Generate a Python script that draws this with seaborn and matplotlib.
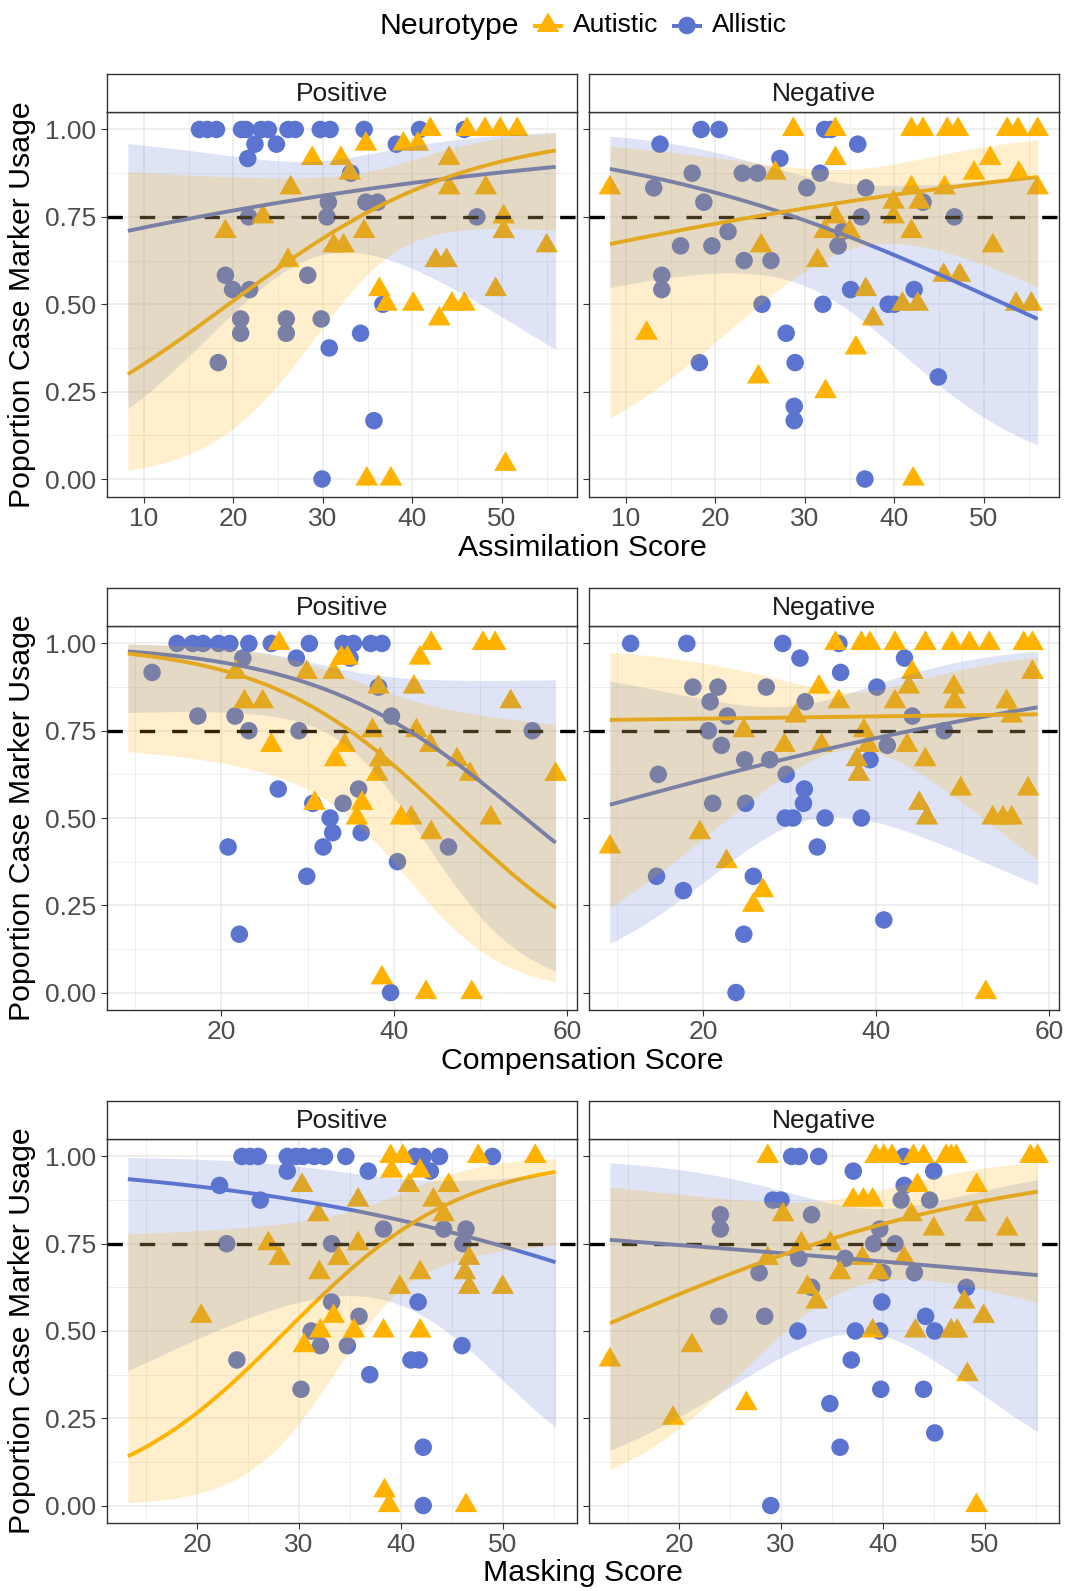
import numpy as np
import pandas as pd
import matplotlib
matplotlib.use("Agg")
import matplotlib.pyplot as plt
from matplotlib.path import Path
import seaborn as sns

sns.set_theme(style="white")
plt.rcParams["font.family"] = ["Liberation Sans", "DejaVu Sans"]

# ---------------------------------------------------------------- data
neurotypes = ["Autistic", "Allistic"]
valences = ["Positive", "Negative"]
score_names = ["Assimilation Score", "Compensation Score", "Masking Score"]
y_ticks = [0.0, 0.25, 0.5, 0.75, 1.0]
y_tick_labels = ["0.00", "0.25", "0.50", "0.75", "1.00"]
x_ticks = [[10, 20, 30, 40, 50], [20, 40, 60], [20, 30, 40, 50]]
threshold = 0.75

# Assimilation, Positive
assim_pos_aut_x = [19.1, 23.3, 26.4, 26.1, 28.8, 32.0, 33.0, 31.2, 32.3, 34.8, 34.6, 36.3, 37.1, 34.9, 37.6, 39.0, 40.6, 40.1,
                   42.0, 42.6, 43.0, 43.8, 44.1, 44.1, 44.4, 45.8, 46.1, 48.1, 48.2, 49.3, 49.8, 50.2, 50.2, 50.4, 51.7, 55.0]
assim_pos_aut_y = [0.708, 0.75, 0.833, 0.625, 0.917, 0.917, 0.875, 0.667, 0.667, 0.958, 0.708, 0.542, 0.5, 0.0, 0.0, 0.958, 0.958, 0.5,
                   1.0, 0.625, 0.458, 0.625, 0.917, 0.833, 0.5, 0.5, 1.0, 1.0, 0.833, 0.542, 1.0, 0.75, 0.708, 0.042, 1.0, 0.667]
assim_pos_all_x = [16.2, 17.1, 18.1, 20.9, 21.4, 23.1, 23.9, 26.1, 26.9, 29.7, 30.8, 34.6, 40.8, 45.8, 22.4, 24.8, 38.2, 21.6, 33.1, 30.6,
                   34.8, 36.1, 21.7, 30.45, 47.2, 19.1, 28.3, 19.9, 21.8, 36.7, 20.8, 25.9, 29.8, 20.8, 25.9, 34.2, 30.7, 18.3, 35.7, 29.9]
assim_pos_all_y = [1.0, 1.0, 1.0, 1.0, 1.0, 1.0, 1.0, 1.0, 1.0, 1.0, 1.0, 1.0, 1.0, 1.0, 0.958, 0.958, 0.958, 0.917, 0.875, 0.792,
                   0.792, 0.792, 0.75, 0.75, 0.75, 0.583, 0.583, 0.542, 0.542, 0.5, 0.458, 0.458, 0.458, 0.417, 0.417, 0.417, 0.375, 0.333, 0.167, 0.0]

# Assimilation, Negative
assim_neg_aut_x = [8.2, 12.3, 24.8, 25.1, 26.7, 28.7, 31.4, 32.2, 32.3, 33.4, 33.4, 33.4, 35.0, 35.7, 36.8, 37.6, 39.9, 39.9, 40.9, 41.9, 41.9,
                   41.9, 42.1, 42.6, 42.8, 43.2, 45.5, 45.6, 45.9, 47.1, 47.3, 48.9, 50.7, 51.0, 52.6, 53.6, 53.8, 53.9, 55.3, 56.0, 56.0]
assim_neg_aut_y = [0.833, 0.417, 0.292, 0.667, 0.875, 1.0, 0.625, 0.708, 0.25, 1.0, 0.917, 0.75, 0.708, 0.375, 0.542, 0.458, 0.792, 0.75, 0.5, 1.0, 0.833,
                   0.708, 0.0, 0.5, 0.792, 1.0, 0.583, 0.833, 1.0, 1.0, 0.583, 0.875, 0.917, 0.667, 1.0, 0.5, 1.0, 0.875, 0.5, 1.0, 0.833]
assim_neg_all_x = [13.1, 13.8, 14.0, 14.0, 16.1, 17.4, 18.2, 18.4, 18.7, 19.6, 20.4, 21.4, 23.0, 23.2, 24.7, 25.2, 26.2, 27.2, 27.9, 28.8,
                   28.8, 28.9, 30.2, 31.7, 32.0, 32.2, 32.9, 33.7, 34.2, 35.1, 35.9, 36.3, 36.7, 36.8, 39.3, 40.0, 42.2, 43.2, 44.9, 46.7]
assim_neg_all_y = [0.833, 0.958, 0.583, 0.542, 0.667, 0.875, 0.333, 1.0, 0.792, 0.667, 1.0, 0.708, 0.875, 0.625, 0.875, 0.5, 0.625, 0.917, 0.417, 0.208,
                   0.167, 0.333, 0.833, 0.875, 0.5, 1.0, 1.0, 0.667, 0.708, 0.542, 0.958, 0.75, 0.0, 0.833, 0.5, 0.5, 0.542, 0.792, 0.292, 0.75]

# Compensation, Positive
comp_pos_aut_x = [21.7, 22.7, 24.8, 25.8, 26.7, 29.9, 30.8, 33.0, 33.2, 33.9, 34.3, 34.6, 35.7, 36.3, 37.5, 38.05, 38.2, 38.4, 38.6, 40.8,
                  42.0, 42.3, 42.6, 43.0, 43.7, 44.2, 44.3, 44.3, 47.3, 48.8, 49.0, 50.3, 51.2, 51.7, 53.5, 58.7]
comp_pos_aut_y = [0.917, 0.833, 0.833, 0.708, 1.0, 0.917, 0.542, 0.917, 0.667, 0.958, 0.708, 0.958, 0.5, 0.542, 0.75, 0.625, 0.875, 0.667, 0.042, 0.5,
                  0.5, 0.875, 0.75, 0.958, 0.0, 0.708, 1.0, 0.458, 0.667, 0.625, 0.0, 1.0, 0.5, 1.0, 0.833, 0.625]
comp_pos_all_x = [12.0, 14.9, 16.7, 17.3, 17.9, 19.7, 20.8, 21.0, 21.6, 22.1, 22.5, 23.2, 23.2, 25.8, 26.6, 28.7, 29.0, 29.9, 30.2, 30.6,
                  31.8, 32.6, 32.9, 34.1, 34.1, 34.9, 35.3, 35.9, 36.2, 37.3, 38.2, 38.6, 39.6, 39.7, 40.4, 46.3, 56.0]
comp_pos_all_y = [0.917, 1.0, 1.0, 0.792, 1.0, 1.0, 0.417, 1.0, 0.792, 0.167, 0.958, 1.0, 0.75, 1.0, 0.583, 0.958, 0.75, 0.333, 1.0, 0.542,
                  0.417, 0.5, 0.458, 1.0, 0.542, 0.958, 1.0, 0.583, 0.458, 1.0, 0.875, 1.0, 0.0, 0.792, 0.375, 0.417, 0.75]

# Compensation, Negative
comp_neg_aut_x = [9.2, 19.6, 22.7, 24.7, 25.8, 26.9, 29.4, 30.7, 33.4, 33.7, 35.3, 35.7, 37.8, 38.0, 38.3, 38.6, 39.1, 39.3, 42.2, 42.2, 43.6, 43.8,
                  44.2, 45.0, 45.7, 45.7, 45.9, 48.8, 49.0, 49.1, 49.8, 50.8, 52.7, 53.1, 53.5, 54.7, 55.1, 55.7, 55.7, 57.1, 57.6, 58.1, 58.1]
comp_neg_aut_y = [0.417, 0.458, 0.375, 0.75, 0.25, 0.292, 0.708, 0.792, 0.875, 0.708, 1.0, 0.833, 0.667, 0.625, 1.0, 0.75, 0.708, 1.0, 1.0, 0.833, 0.708, 0.875,
                  0.917, 0.542, 1.0, 0.667, 0.5, 1.0, 0.875, 0.833, 0.583, 1.0, 0.0, 1.0, 0.5, 0.5, 0.833, 0.792, 0.5, 1.0, 0.583, 1.0, 0.917]
comp_neg_all_x = [11.6, 14.6, 14.8, 17.7, 18.1, 18.8, 20.6, 20.8, 21.1, 21.7, 22.1, 22.8, 23.8, 24.7, 24.8, 24.9, 25.8, 27.3, 27.7, 29.2,
                  29.5, 29.6, 30.4, 31.2, 31.6, 31.7, 31.8, 33.2, 34.1, 35.7, 35.9, 38.3, 39.3, 40.1, 40.9, 41.3, 43.3, 44.2, 47.9]
comp_neg_all_y = [1.0, 0.333, 0.625, 0.292, 1.0, 0.875, 0.75, 0.833, 0.542, 0.875, 0.708, 0.792, 0.0, 0.167, 0.667, 0.542, 0.333, 0.875, 0.667, 1.0,
                  0.5, 0.625, 0.5, 0.958, 0.542, 0.583, 0.833, 0.417, 0.5, 1.0, 0.917, 0.5, 0.667, 0.875, 0.208, 0.708, 0.958, 0.792, 0.75]

# Masking, Positive
mask_pos_aut_x = [20.4, 27.0, 28.1, 30.3, 30.5, 31.9, 32.0, 32.1, 33.4, 33.9, 35.4, 35.8, 35.8, 38.3, 38.4, 38.85, 39.0, 39.1, 39.9, 40.2,
                  40.8, 41.9, 41.9, 41.9, 43.2, 44.2, 44.7, 46.3, 46.4, 46.7, 46.7, 47.6, 50.0, 53.2]
mask_pos_aut_y = [0.542, 0.75, 0.708, 0.917, 0.458, 0.833, 0.667, 0.5, 0.542, 0.708, 0.5, 0.875, 0.75, 0.5, 0.042, 0.0, 1.0, 0.958, 0.625, 1.0,
                  0.917, 0.958, 0.667, 0.5, 0.875, 0.833, 0.917, 0.667, 0.0, 0.708, 0.625, 1.0, 0.625, 1.0]
mask_pos_all_x = [22.2, 22.9, 23.9, 24.4, 25.2, 26.0, 26.2, 28.85, 28.85, 29.7, 30.2, 30.4, 31.2, 31.5, 32.1, 32.5, 33.2, 33.2, 34.6,
                  34.75, 35.9, 36.8, 36.95, 38.3, 41.0, 41.4, 41.7, 41.8, 42.2, 42.2, 42.2, 42.9, 43.8, 44.2, 46.0, 46.1, 46.4, 49.0]
mask_pos_all_y = [0.917, 0.75, 0.417, 1.0, 1.0, 1.0, 0.875, 1.0, 0.958, 1.0, 0.333, 1.0, 0.5, 1.0, 0.458, 1.0, 0.75, 0.583, 1.0,
                  0.458, 0.542, 0.958, 0.375, 0.792, 0.417, 1.0, 0.583, 0.417, 1.0, 0.167, 0.0, 0.958, 1.0, 0.792, 0.458, 0.75, 0.792, 1.0]

# Masking, Negative
mask_neg_aut_x = [13.2, 19.4, 21.25, 26.6, 28.7, 28.7, 30.2, 32.0, 32.6, 33.5, 34.85, 35.8, 37.1, 38.0, 38.1, 39.0, 39.0, 39.3, 39.6, 40.1, 40.9,
                  42.1, 42.8, 43.0, 43.2, 43.4, 44.0, 45.0, 46.2, 46.7, 46.7, 47.2, 47.3, 48.0, 48.3, 49.1, 49.2, 49.2, 49.9, 52.2, 54.5, 55.2]
mask_neg_aut_y = [0.417, 0.25, 0.458, 0.292, 1.0, 0.708, 0.833, 0.75, 0.625, 0.583, 0.75, 0.667, 0.875, 0.708, 0.875, 0.875, 0.5, 1.0, 0.667, 1.0, 1.0,
                  0.708, 0.833, 1.0, 0.5, 0.917, 1.0, 0.792, 1.0, 1.0, 0.5, 1.0, 0.5, 0.583, 0.375, 0.833, 0.917, 0.0, 0.542, 0.792, 1.0, 1.0]
mask_neg_all_x = [23.9, 24.05, 24.05, 27.85, 28.4, 29.0, 29.2, 30.0, 31.05, 31.65, 31.75, 31.8, 33.0, 33.0, 33.7, 34.8, 35.8, 36.3, 36.9, 37.1,
                  37.3, 39.1, 39.7, 39.7, 39.8, 39.9, 40.0, 41.2, 41.8, 42.1, 42.1, 43.1, 44.0, 44.2, 44.6, 45.0, 45.1, 45.1, 48.2]
mask_neg_all_y = [0.542, 0.833, 0.792, 0.667, 0.542, 0.0, 0.875, 0.875, 1.0, 0.5, 0.708, 1.0, 0.833, 0.625, 1.0, 0.292, 0.167, 0.708, 0.417, 0.958,
                  0.5, 0.75, 0.792, 0.5, 0.333, 0.583, 0.667, 0.75, 0.875, 1.0, 0.917, 0.667, 0.333, 0.542, 0.875, 0.958, 0.5, 0.208, 0.625]

# Logistic trend per facet: fitted proportion at the low and high end of the
# score range, and the 95% band half-width (logit scale) at three scores.
assim_pos_aut_fit = [0.30, 0.94]
assim_pos_aut_ci_x = [8.2, 35.0, 56.0]
assim_pos_aut_ci = [2.83, 0.82, 1.85]
assim_pos_all_fit = [0.71, 0.893]
assim_pos_all_ci_x = [8.2, 26.0, 56.0]
assim_pos_all_ci = [2.27, 0.95, 2.65]
assim_neg_aut_fit = [0.672, 0.864]
assim_neg_aut_ci_x = [8.2, 35.0, 56.0]
assim_neg_aut_ci = [2.27, 0.70, 1.65]
assim_neg_all_fit = [0.887, 0.458]
assim_neg_all_ci_x = [8.2, 31.0, 56.0]
assim_neg_all_ci = [1.87, 0.83, 2.05]

comp_pos_aut_fit = [0.971, 0.243]
comp_pos_aut_ci_x = [9.2, 38.0, 58.7]
comp_pos_aut_ci = [2.71, 1.10, 2.34]
comp_pos_all_fit = [0.977, 0.429]
comp_pos_all_ci_x = [9.2, 33.0, 58.7]
comp_pos_all_ci = [2.35, 0.80, 2.44]
comp_neg_aut_fit = [0.781, 0.797]
comp_neg_aut_ci_x = [9.2, 31.0, 58.7]
comp_neg_aut_ci = [2.40, 0.72, 1.86]
comp_neg_all_fit = [0.538, 0.817]
comp_neg_all_ci_x = [9.2, 33.0, 58.7]
comp_neg_all_ci = [1.96, 0.80, 2.30]

mask_pos_aut_fit = [0.141, 0.956]
mask_pos_aut_ci_x = [13.2, 35.0, 55.2]
mask_pos_aut_ci = [3.06, 0.95, 2.00]
mask_pos_all_fit = [0.935, 0.697]
mask_pos_all_ci_x = [13.2, 34.0, 55.2]
mask_pos_all_ci = [3.13, 1.35, 2.07]
mask_neg_aut_fit = [0.522, 0.899]
mask_neg_aut_ci_x = [13.2, 34.0, 55.2]
mask_neg_aut_ci = [2.25, 0.80, 1.86]
mask_neg_all_fit = [0.761, 0.66]
mask_neg_all_ci_x = [13.2, 37.0, 55.2]
mask_neg_all_ci = [2.83, 0.90, 1.98]

series = {
    (0, "Positive", "Autistic"): (assim_pos_aut_x, assim_pos_aut_y, assim_pos_aut_fit, assim_pos_aut_ci_x, assim_pos_aut_ci),
    (0, "Positive", "Allistic"): (assim_pos_all_x, assim_pos_all_y, assim_pos_all_fit, assim_pos_all_ci_x, assim_pos_all_ci),
    (0, "Negative", "Autistic"): (assim_neg_aut_x, assim_neg_aut_y, assim_neg_aut_fit, assim_neg_aut_ci_x, assim_neg_aut_ci),
    (0, "Negative", "Allistic"): (assim_neg_all_x, assim_neg_all_y, assim_neg_all_fit, assim_neg_all_ci_x, assim_neg_all_ci),
    (1, "Positive", "Autistic"): (comp_pos_aut_x, comp_pos_aut_y, comp_pos_aut_fit, comp_pos_aut_ci_x, comp_pos_aut_ci),
    (1, "Positive", "Allistic"): (comp_pos_all_x, comp_pos_all_y, comp_pos_all_fit, comp_pos_all_ci_x, comp_pos_all_ci),
    (1, "Negative", "Autistic"): (comp_neg_aut_x, comp_neg_aut_y, comp_neg_aut_fit, comp_neg_aut_ci_x, comp_neg_aut_ci),
    (1, "Negative", "Allistic"): (comp_neg_all_x, comp_neg_all_y, comp_neg_all_fit, comp_neg_all_ci_x, comp_neg_all_ci),
    (2, "Positive", "Autistic"): (mask_pos_aut_x, mask_pos_aut_y, mask_pos_aut_fit, mask_pos_aut_ci_x, mask_pos_aut_ci),
    (2, "Positive", "Allistic"): (mask_pos_all_x, mask_pos_all_y, mask_pos_all_fit, mask_pos_all_ci_x, mask_pos_all_ci),
    (2, "Negative", "Autistic"): (mask_neg_aut_x, mask_neg_aut_y, mask_neg_aut_fit, mask_neg_aut_ci_x, mask_neg_aut_ci),
    (2, "Negative", "Allistic"): (mask_neg_all_x, mask_neg_all_y, mask_neg_all_fit, mask_neg_all_ci_x, mask_neg_all_ci),
}
rows = []
for (r, val, nt), (xs, ys, _, _, _) in series.items():
    for xv, yv in zip(xs, ys):
        rows.append({"row": r, "Valence": val, "Neurotype": nt, "score": xv, "prop": yv})
df = pd.DataFrame(rows)

# ---------------------------------------------------------------- styling
COLORS = {"Autistic": "#FFB300", "Allistic": "#5A74CF"}
GREY20 = "#333333"
GREY30 = "#4D4D4D"
W, H = 1065, 1591
TICK_FS = 19
TITLE_FS = 21.8

# equilateral up-triangle centred on its centroid
TRI = Path([[0, 1.5551], [1.3468, -0.7776], [-1.3468, -0.7776], [0, 0]],
           [Path.MOVETO, Path.LINETO, Path.LINETO, Path.CLOSEPOLY])
MARKERS = {"Autistic": TRI, "Allistic": "o"}
SIZES = {"Autistic": 356, "Allistic": 159}


def logit(p):
    p = np.asarray(p, float)
    return np.log(p / (1 - p))


def expit(v):
    return 1.0 / (1.0 + np.exp(-v))


def logistic_trend(grid, fit, ci_x, ci_hw):
    """Logit-linear trend with a band whose squared half-width is quadratic in x."""
    e0, e1 = logit(fit)
    eta = e0 + (e1 - e0) * (grid - grid[0]) / (grid[-1] - grid[0])
    coef = np.polyfit(ci_x, np.square(ci_hw), 2)
    hw = np.sqrt(np.clip(np.polyval(coef, grid), 1e-6, None))
    return expit(eta), expit(eta - hw), expit(eta + hw)


fig = plt.figure(figsize=(W / 100, H / 100), dpi=100)
fig.patch.set_facecolor("white")


def px_axes(x0, y0, x1, y1):
    return fig.add_axes([x0 / W, 1 - y1 / H, (x1 - x0) / W, (y1 - y0) / H])


panel_x = [(106.5, 577.0), (588.5, 1059.0)]
panel_y = [(112.0, 496.5), (626.0, 1010.0), (1139.0, 1523.0)]
strip_h = 38.5
xtitle_y = [548, 1061, 1573]

for r in range(3):
    sub = df[df["row"] == r]
    xmin, xmax = sub["score"].min(), sub["score"].max()
    pad = 0.05 * (xmax - xmin)
    grid = np.linspace(xmin, xmax, 80)
    ticks = x_ticks[r]
    step = ticks[1] - ticks[0]
    minors = np.arange(ticks[0] - step / 2, xmax + pad + step, step)
    y0, y1 = panel_y[r]
    for c, val in enumerate(valences):
        x0, x1 = panel_x[c]
        ax = px_axes(x0, y0, x1, y1)
        ax.set_facecolor("white")
        ax.set_xlim(xmin - pad, xmax + pad)
        ax.set_ylim(-0.05, 1.05)
        # grid
        for m in minors:
            ax.axvline(m, color="#EBEBEB", lw=0.55, zorder=0)
        for m in [0.125, 0.375, 0.625, 0.875]:
            ax.axhline(m, color="#EBEBEB", lw=0.55, zorder=0)
        for t in ticks:
            ax.axvline(t, color="#EBEBEB", lw=1.1, zorder=0.1)
        for t in y_ticks:
            ax.axhline(t, color="#EBEBEB", lw=1.1, zorder=0.1)

        pdat = sub[sub["Valence"] == val]
        for nt in ["Allistic", "Autistic"]:
            g = pdat[pdat["Neurotype"] == nt]
            sns.scatterplot(data=g, x="score", y="prop", marker=MARKERS[nt], s=SIZES[nt],
                            color=COLORS[nt], edgecolor="none", linewidth=0,
                            legend=False, ax=ax, zorder=2)

        ax.axhline(threshold, color="black", lw=2.4, linestyle=(0, (4.6, 5.1)), zorder=2.5)

        fits = {}
        for nt in ["Allistic", "Autistic"]:
            _, _, fit, ci_x, ci_hw = series[(r, val, nt)]
            fits[nt] = logistic_trend(grid, fit, ci_x, ci_hw)
        for nt in ["Allistic", "Autistic"]:
            ax.plot(grid, fits[nt][0], color=COLORS[nt], lw=2.8, zorder=3,
                    solid_capstyle="butt")
        for nt in ["Allistic", "Autistic"]:
            ax.fill_between(grid, fits[nt][1], fits[nt][2], color=COLORS[nt],
                            alpha=0.2, linewidth=0, zorder=4)

        ax.set_xticks(ticks)
        ax.set_xticklabels([str(t) for t in ticks])
        ax.set_yticks(y_ticks)
        if c == 0:
            ax.set_yticklabels(y_tick_labels)
        else:
            ax.set_yticklabels([])
        ax.tick_params(axis="both", direction="out", length=4.3, width=0.8, color=GREY20,
                       labelsize=TICK_FS, labelcolor=GREY30, pad=3,
                       bottom=True, left=True)
        if c == 1:
            ax.tick_params(axis="y", labelleft=False)
        ax.set_xlabel("")
        ax.set_ylabel("")
        for s in ax.spines.values():
            s.set_color(GREY20)
            s.set_linewidth(1.0)
            s.set_zorder(6)

        # facet strip
        sax = px_axes(x0, y0 - strip_h, x1, y0)
        sax.set_facecolor("white")
        sax.set_xticks([])
        sax.set_yticks([])
        for s in sax.spines.values():
            s.set_color(GREY20)
            s.set_linewidth(1.0)
        sax.text(0.5, 0.48, val, ha="center", va="center", fontsize=TICK_FS,
                 color="#1A1A1A", transform=sax.transAxes)

    fig.text(582.5 / W, 1 - xtitle_y[r] / H, score_names[r], ha="center", va="center",
             fontsize=TITLE_FS, color="black")
    fig.text(22.5 / W, 1 - ((y0 + y1) / 2) / H, "Poportion Case Marker Usage", rotation=90,
             ha="center", va="center", fontsize=TITLE_FS, color="black")

# ---------------------------------------------------------------- legend
lax = px_axes(0, 0, W, 52)
lax.set_xlim(0, W)
lax.set_ylim(52, 0)
lax.axis("off")
leg_y = 25.5
lax.text(380, leg_y, "Neurotype", ha="left", va="center", fontsize=TITLE_FS, color="black")
key_pos = {"Autistic": (548, 573), "Allistic": (687, 712)}
for nt in neurotypes:
    kx, tx = key_pos[nt]
    lax.plot([kx - 15, kx + 15], [leg_y, leg_y], color=COLORS[nt], lw=2.8,
             solid_capstyle="butt")
    lax.scatter([kx], [leg_y], marker=MARKERS[nt], s=SIZES[nt], color=COLORS[nt],
                edgecolor="none", linewidth=0, zorder=3)
    lax.text(tx, leg_y, nt, ha="left", va="center", fontsize=TICK_FS, color="black")

fig.savefig("out.png", dpi=100, facecolor="white")
